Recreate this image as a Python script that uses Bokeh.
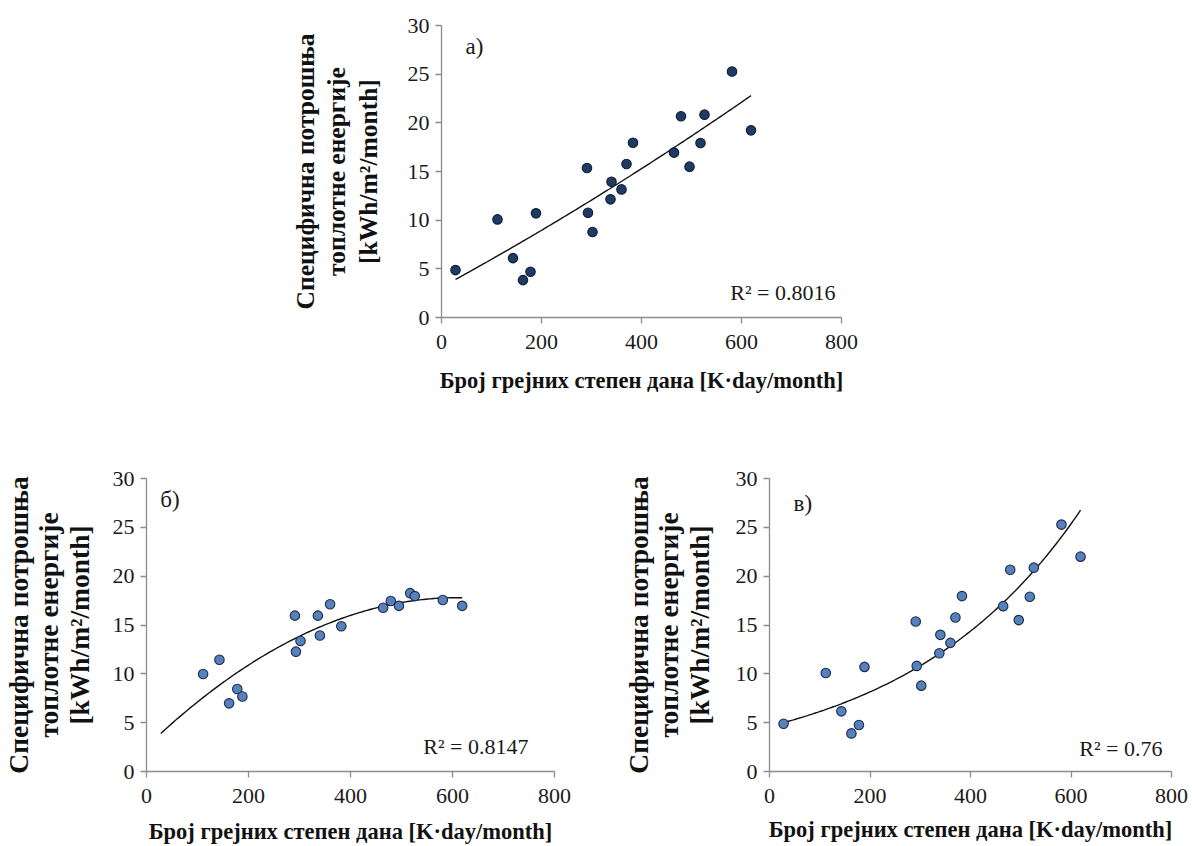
import numpy as np
from bokeh.plotting import figure
from bokeh.layouts import column, row
from bokeh.models import Range1d, FixedTicker, Label
from bokeh.embed import file_html
from bokeh.resources import INLINE

# ---- data ----
hdd_a = [28, 112, 143, 163, 178, 189, 291, 293, 302, 338, 340, 360, 370, 383,
         465, 479, 496, 518, 526, 581, 619]
q_a = [4.87, 10.08, 6.10, 3.84, 4.70, 10.70, 15.36, 10.76, 8.78, 12.14, 13.95,
       13.16, 15.77, 17.96, 16.94, 20.67, 15.50, 17.93, 20.84, 25.27, 19.23]

hdd_b = [111, 143, 162, 178, 188, 291, 293, 302, 336, 340, 360, 382, 464, 479,
         495, 517, 526, 581, 619]
q_b = [9.98, 11.44, 6.98, 8.45, 7.68, 15.96, 12.27, 13.37, 15.96, 13.93, 17.13,
       14.87, 16.76, 17.46, 16.96, 18.26, 17.96, 17.56, 16.96]

hdd_c = [28, 112, 143, 163, 178, 189, 291, 293, 302, 338, 340, 360, 370, 383,
         465, 479, 496, 518, 526, 581, 619]
q_c = [4.89, 10.09, 6.16, 3.90, 4.76, 10.71, 15.36, 10.81, 8.79, 12.11, 13.99,
       13.17, 15.77, 17.96, 16.93, 20.66, 15.50, 17.89, 20.87, 25.28, 22.00]

r2_labels = ["R² = 0.8016", "R² = 0.8147", "R² = 0.76"]
panel_labels = ["а)", "б)", "в)"]
x_ticks = [0, 200, 400, 600, 800]
y_ticks = [0, 5, 10, 15, 20, 25, 30]
x_title = "Број грејних степен дана [K·day/month]"
y_title = "Специфична потрошња\nтоплотне енергије\n[kWh/m²/month]"

FONT = "Liberation Serif"
AXIS_COLOR = "#8c8c8c"

# trendlines (Excel-style fits of the data)
x_span = np.linspace(min(hdd_a), max(hdd_a), 150)
fit_a = np.polyval(np.polyfit(hdd_a, q_a, 2), x_span)
fit_b = np.polyval(np.polyfit(hdd_b, q_b, 2), x_span)
cb, ca = np.polyfit(hdd_c, np.log(q_c), 1)
fit_c = np.exp(ca) * np.exp(cb * np.array(x_span))


def make_fig(w, h, ml, mr, mt, mb, xstand, ystand, ysize, ylh):
    p = figure(width=w, height=h, x_range=Range1d(0, 800), y_range=Range1d(0, 30),
               output_backend="svg", toolbar_location=None,
               min_border_left=ml, min_border_right=mr,
               min_border_top=mt, min_border_bottom=mb)
    p.grid.visible = False
    p.outline_line_color = None
    p.background_fill_color = "white"
    p.border_fill_color = "white"
    p.xaxis.ticker = FixedTicker(ticks=x_ticks)
    p.yaxis.ticker = FixedTicker(ticks=y_ticks)
    for ax in (p.xaxis[0], p.yaxis[0]):
        ax.axis_line_color = AXIS_COLOR
        ax.axis_line_width = 1.3
        ax.major_tick_line_color = AXIS_COLOR
        ax.major_tick_line_width = 1.3
        ax.major_tick_out = 6
        ax.major_tick_in = 0
        ax.minor_tick_line_color = None
        ax.major_label_text_font = FONT
        ax.major_label_text_font_size = "22px"
        ax.major_label_text_color = "#1a1a1a"
        ax.axis_label_text_font = FONT
        ax.axis_label_text_font_style = "bold"
        ax.axis_label_text_color = "#111111"
    p.xaxis.major_label_standoff = 11
    p.yaxis.major_label_standoff = 6
    p.xaxis.axis_label = x_title
    p.xaxis.axis_label_text_font_size = "22.5px"
    p.xaxis.axis_label_standoff = xstand
    p.yaxis.axis_label = y_title
    p.yaxis.axis_label_text_font_size = ysize
    p.yaxis.axis_label_text_line_height = ylh
    p.yaxis.axis_label_standoff = ystand
    return p


def decorate(p, xs, ys, fit, fill, line, r2, r2x, r2y, lab, labx, laby):
    p.line(x_span, fit, line_color="#111111", line_width=1.4)
    p.scatter(xs, ys, size=9.5, fill_color=fill, line_color=line, line_width=1.1)
    p.add_layout(Label(x=r2x, y=r2y, text=r2, text_font=FONT, text_font_size="22px",
                       text_align="right", text_baseline="middle", text_color="#1a1a1a"))
    p.add_layout(Label(x=labx, y=laby, text=lab, text_font=FONT, text_font_size="23px",
                       text_align="left", text_baseline="middle", text_color="#1a1a1a"))


# panel а (top)
pa = make_fig(1192, 420, 441, 351, 25, 103, 16, 22, "25.5px", 1.07)
decorate(pa, hdd_a, q_a, fit_a, "#1f3a63", "#0e1e38", r2_labels[0], 788, 2.6,
         panel_labels[0], 48, 27.8)

# panel б (bottom left)
pb = make_fig(620, 426, 144, 66, 54, 72, 13, 15, "27.5px", 0.97)
decorate(pb, hdd_b, q_b, fit_b, "#5681bd", "#1c2c4a", r2_labels[1], 749, 2.6,
         panel_labels[1], 27, 27.9)

# panel в (bottom right)
pc = make_fig(572, 426, 149, 21, 58, 75, 11, 18, "27.5px", 0.97)
decorate(pc, hdd_c, q_c, fit_c, "#5681bd", "#1c2c4a", r2_labels[2], 782, 2.4,
         panel_labels[2], 48, 27.4)

layout = column(pa, row(pb, pc, spacing=0), spacing=0)

open("out.html", "w").write(file_html(layout, INLINE))
